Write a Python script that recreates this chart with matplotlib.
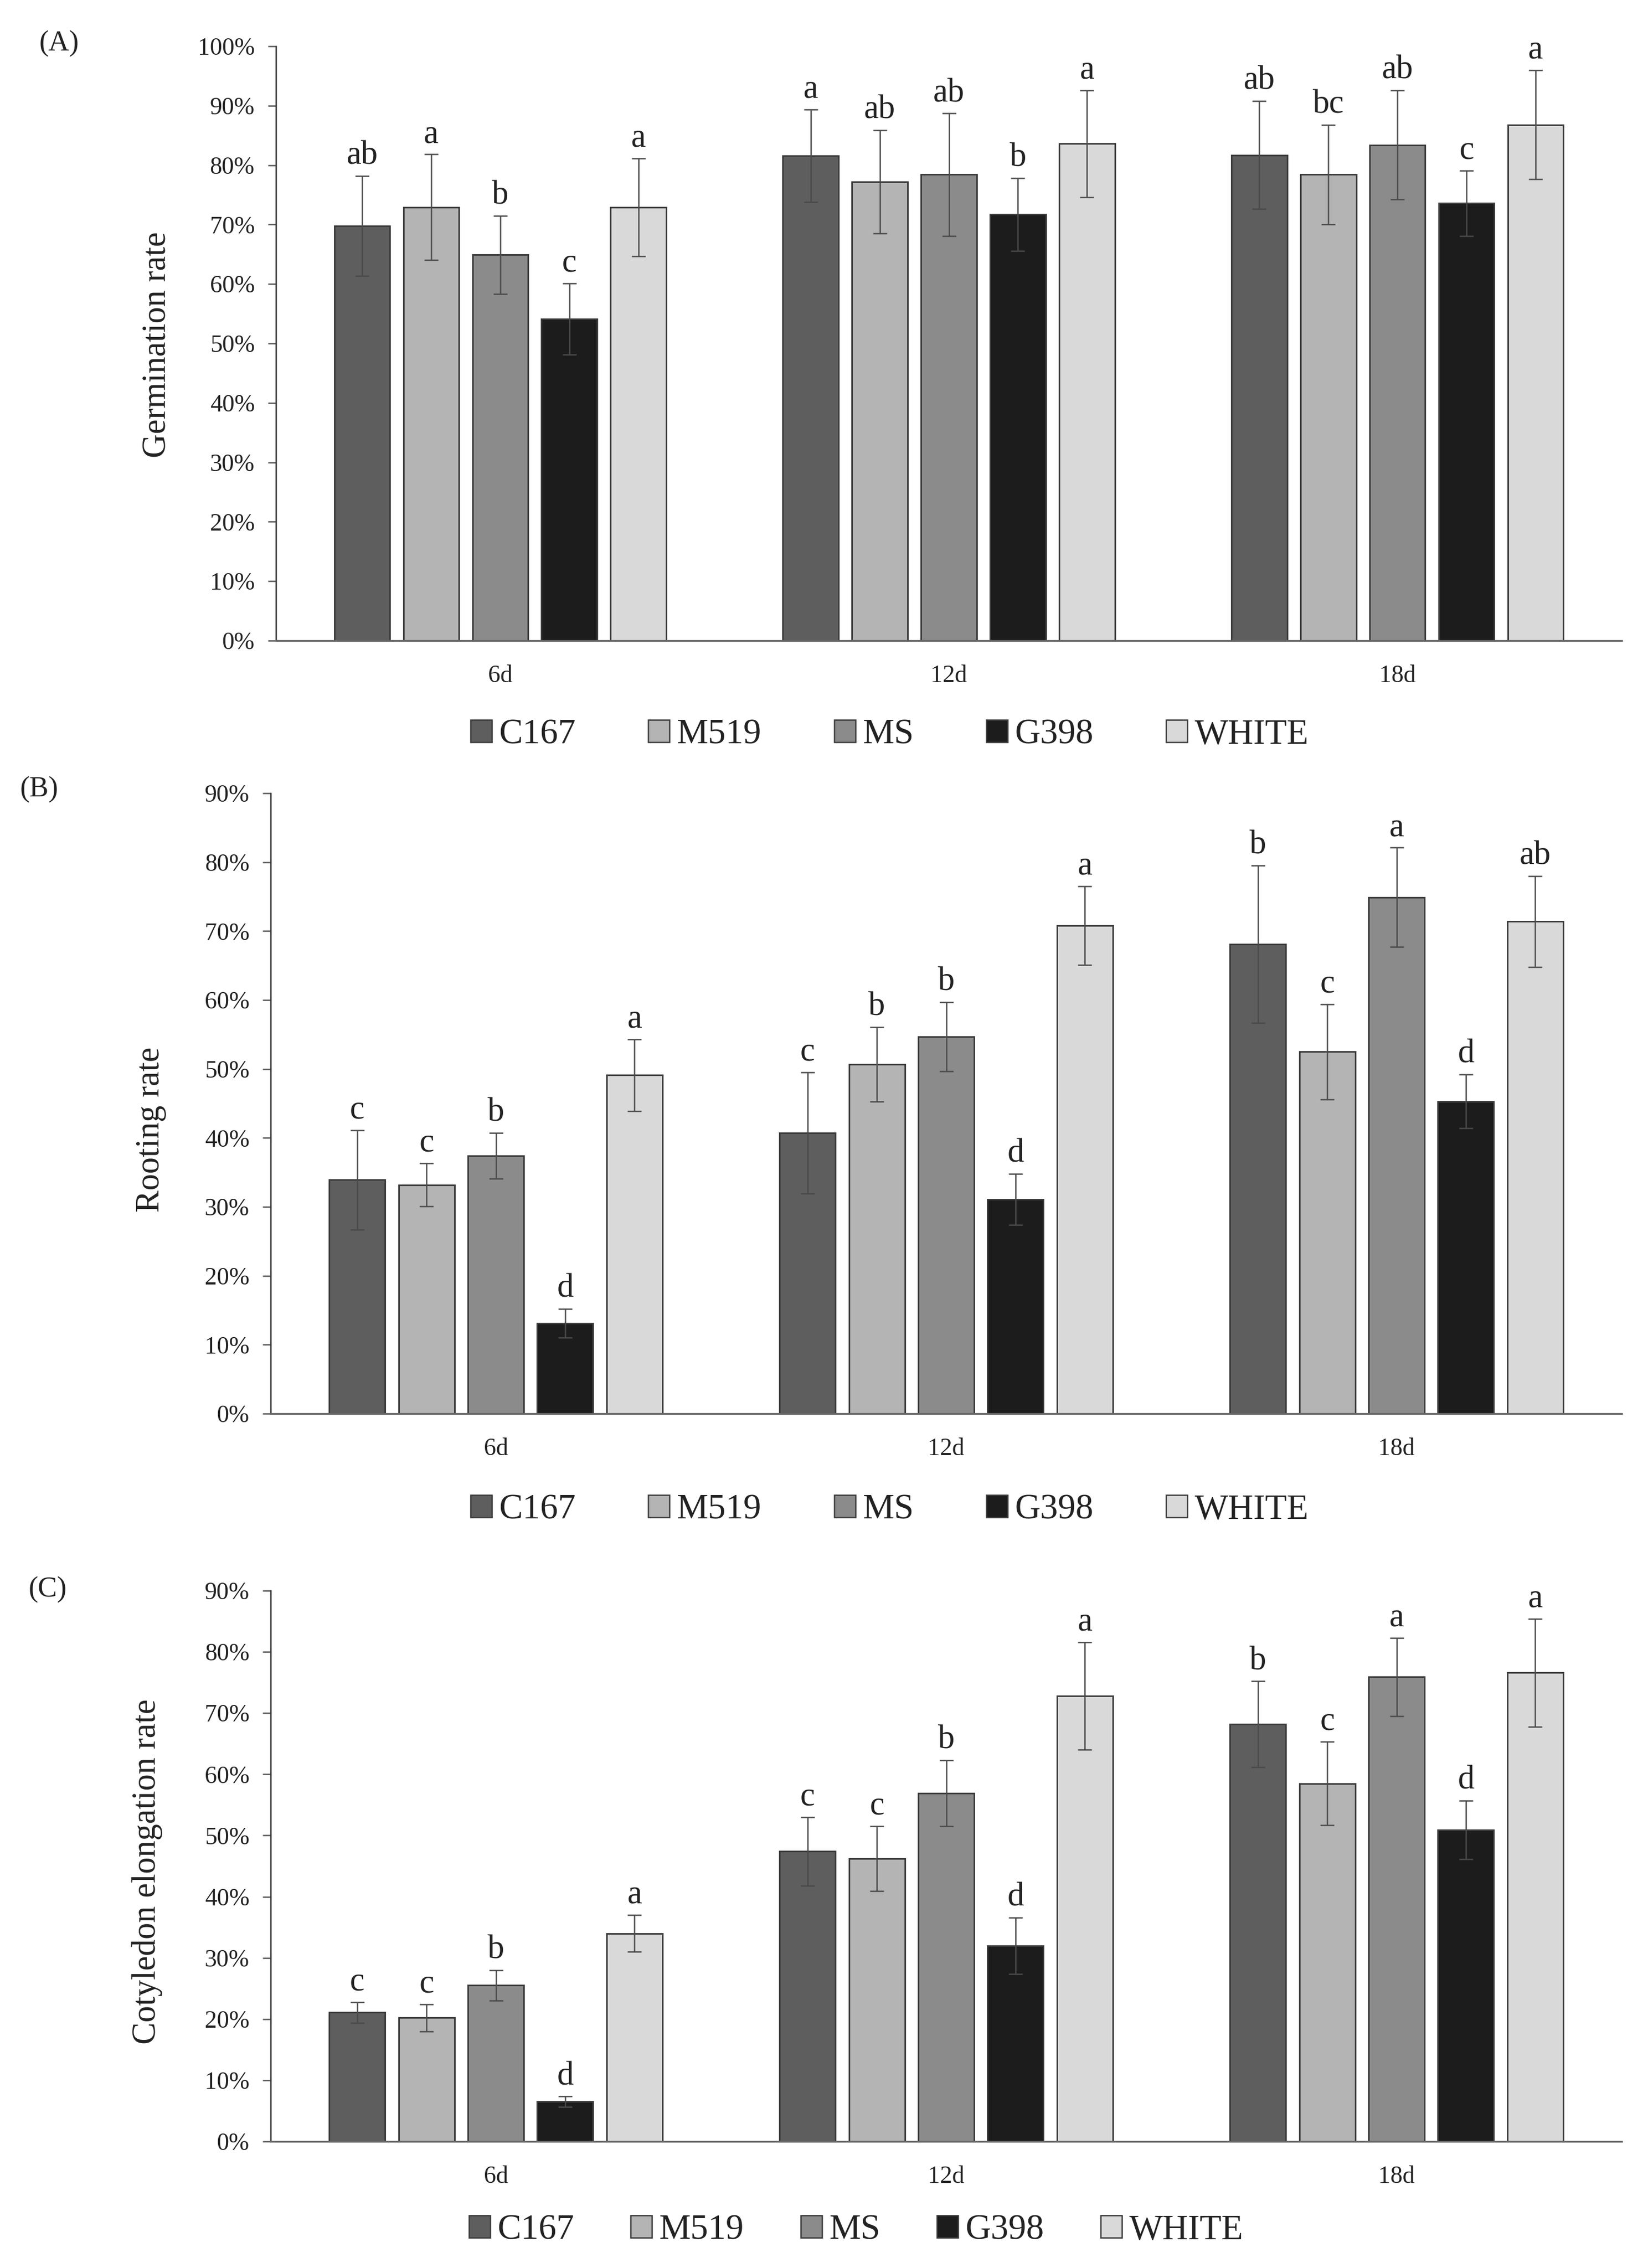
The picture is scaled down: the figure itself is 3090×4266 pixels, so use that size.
import numpy as np
import matplotlib
matplotlib.use('Agg')
import matplotlib.pyplot as plt
from matplotlib.patches import Patch

plt.rcParams['font.family'] = ['Liberation Serif', 'DejaVu Serif']

days = ['6d', '12d', '18d']
strains = ['C167', 'M519', 'MS', 'G398', 'WHITE']
colors = ['#5e5e5e', '#b4b4b4', '#8b8b8b', '#1c1c1c', '#d9d9d9']

# (A) germination rate, rows = strains, cols = days
germ_mean = [[69.8, 81.6, 81.7],
             [72.9, 77.2, 78.4],
             [64.9, 78.4, 83.4],
             [54.1, 71.7, 73.6],
             [72.9, 83.6, 86.8]]
germ_err = [[8.4, 7.8, 9.1],
            [8.9, 8.7, 8.4],
            [6.6, 10.3, 9.2],
            [6.0, 6.1, 5.5],
            [8.2, 9.0, 9.2]]
germ_letters = [['ab', 'a', 'ab'],
                ['a', 'ab', 'bc'],
                ['b', 'ab', 'ab'],
                ['c', 'b', 'c'],
                ['a', 'a', 'a']]

# (B) rooting rate
root_mean = [[33.9, 40.7, 68.1],
             [33.2, 50.7, 52.5],
             [37.4, 54.7, 74.9],
             [13.1, 31.1, 45.3],
             [49.1, 70.8, 71.4]]
root_err = [[7.2, 8.8, 11.4],
            [3.1, 5.4, 6.9],
            [3.3, 5.0, 7.2],
            [2.1, 3.7, 3.9],
            [5.2, 5.7, 6.6]]
root_letters = [['c', 'c', 'b'],
                ['c', 'b', 'c'],
                ['b', 'b', 'a'],
                ['d', 'd', 'd'],
                ['a', 'a', 'ab']]

# (C) cotyledon elongation rate
coty_mean = [[21.1, 47.4, 68.2],
             [20.2, 46.2, 58.5],
             [25.5, 56.9, 75.9],
             [6.5, 32.0, 50.9],
             [34.0, 72.8, 76.6]]
coty_err = [[1.7, 5.6, 7.0],
            [2.2, 5.3, 6.8],
            [2.5, 5.4, 6.4],
            [0.85, 4.6, 4.8],
            [3.0, 8.8, 8.8]]
coty_letters = [['c', 'c', 'b'],
                ['c', 'c', 'c'],
                ['b', 'b', 'a'],
                ['d', 'd', 'd'],
                ['a', 'a', 'a']]

fig = plt.figure(figsize=(10.3, 14.22), dpi=300)

W, H = 3090.0, 4266.0
def box(left, right, top, bottom):
    return [left / W, 1 - bottom / H, (right - left) / W, (bottom - top) / H]

def panel(rect, means, errs, letters, ymax, ylabel, tag, tagpos, ylab_x, ylab_y,
          leg_x, leg_y, colsp):
    ax = fig.add_axes(rect)
    x = np.arange(len(days))
    pitch = 0.154
    width = 0.124
    for i, s in enumerate(strains):
        xs = x + (i - 2) * pitch
        ax.bar(xs, means[i], width, color=colors[i], edgecolor='#3a3a3a',
               linewidth=0.7, zorder=2)
        ax.errorbar(xs, means[i], yerr=errs[i], fmt='none', ecolor='#4a4a4a',
                    elinewidth=0.6, capsize=3.2, capthick=0.6, zorder=3)
        for j in range(len(days)):
            ax.annotate(letters[i][j], (xs[j], means[i][j] + errs[i][j]),
                        xytext=(0, 2), textcoords='offset points',
                        ha='center', va='bottom', fontsize=15, color='#222222')
    ax.set_xlim(-0.5, 2.5)
    ax.set_ylim(0, ymax)
    ax.set_yticks(np.arange(0, ymax + 1, 10))
    ax.set_yticklabels(['%d%%' % v for v in np.arange(0, ymax + 1, 10)])
    ax.set_xticks(x)
    ax.set_xticklabels(days)
    ax.tick_params(axis='x', length=0, pad=11, labelsize=11, colors='#222222')
    ax.tick_params(axis='y', length=3.6, width=0.6, pad=6, labelsize=11,
                   colors='#222222', color='#555555')
    for side in ['top', 'right']:
        ax.spines[side].set_visible(False)
    ax.spines['left'].set_color('#333333')
    ax.spines['left'].set_linewidth(0.6)
    ax.spines['bottom'].set_color('#666666')
    ax.spines['bottom'].set_linewidth(0.8)
    ax.set_ylabel(ylabel, fontsize=15, color='#222222')
    ax.yaxis.set_label_coords(ylab_x, ylab_y)
    fig.text(tagpos[0] / W, 1 - tagpos[1] / H, tag, fontsize=13,
             ha='center', va='center', color='#222222')
    handles = [Patch(facecolor=c, edgecolor='#3a3a3a', linewidth=0.6) for c in colors]
    fig.legend(handles, strains, loc='center', ncol=5, frameon=False,
               bbox_to_anchor=(leg_x / W, 1 - leg_y / H), fontsize=16,
               handlelength=0.6, handleheight=0.6, handletextpad=0.2,
               columnspacing=colsp, labelcolor='#222222')
    return ax

panel(box(519, 3050, 87, 1205), germ_mean, germ_err, germ_letters, 100,
      'Germination rate', '(A)', (111, 82), -0.077, 0.498, 1673, 1382, 2.05)
panel(box(509, 3050, 1492, 2659), root_mean, root_err, root_letters, 90,
      'Rooting rate', '(B)', (74, 1485), -0.077, 0.458, 1673, 2840, 2.05)
panel(box(509, 3050, 2992, 4028), coty_mean, coty_err, coty_letters, 90,
      'Cotyledon elongation rate', '(C)', (90, 2990), -0.080, 0.49, 1610, 4195, 1.6)

fig.savefig('out.png', dpi=300, facecolor='white')
